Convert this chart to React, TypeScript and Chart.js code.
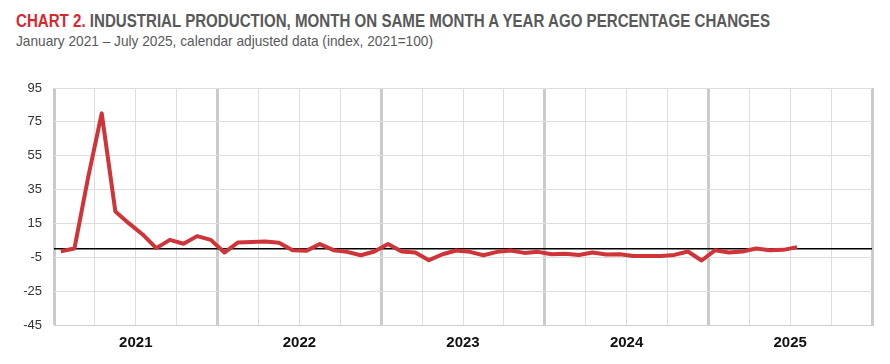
import React, { useEffect, useRef } from "react";
import { Chart, registerables } from "chart.js";

Chart.register(...registerables);

const YEARS = ["2021", "2022", "2023", "2024", "2025"];
const Y_TICKS = [-45, -25, -5, 15, 35, 55, 75, 95];

const VALUES_2021 = [-1.4, 0.2, 42, 80, 22, 15, 8.5, 0.4, 5.3, 3, 7.5, 5.3];
const VALUES_2022 = [-2.2, 3.8, 4, 4.3, 3.6, -0.8, -1.2, 2.8, -0.8, -1.8, -3.8, -1.6];
const VALUES_2023 = [2.8, -1.6, -2.2, -6.7, -3.2, -1, -1.8, -3.8, -1.8, -1, -2.4, -1.8];
const VALUES_2024 = [-3.2, -2.9, -3.6, -2.2, -3.4, -3.2, -4.2, -4.2, -4.2, -3.6, -1.6, -6.9];
const VALUES_2025 = [-0.8, -2.2, -1.6, 0.2, -0.8, -0.6, 1];

const SERIES = [...VALUES_2021, ...VALUES_2022, ...VALUES_2023, ...VALUES_2024, ...VALUES_2025];

const FONT = '"Liberation Sans Narrow", "Arial Narrow", "Liberation Sans", Arial, sans-serif';

export default function App() {
  const ref = useRef<HTMLCanvasElement | null>(null);
  const titleRef = useRef<HTMLDivElement | null>(null);
  const subRef = useRef<HTMLDivElement | null>(null);

  useEffect(() => {
    const fit = (el: HTMLDivElement | null, target: number) => {
      if (!el) return;
      el.style.transform = "none";
      const w = el.getBoundingClientRect().width;
      if (w > 0) el.style.transform = `scaleX(${target / w})`;
    };
    fit(titleRef.current, 754);
    fit(subRef.current, 417);

    if (!ref.current) return;
    const totalMonths = YEARS.length * 12;
    const chart = new Chart(ref.current, {
      type: "line",
      data: {
        datasets: [
          {
            data: SERIES.map((v, i) => ({ x: i + 0.5, y: v })),
            borderColor: "#cf3439",
            borderWidth: 4,
            pointRadius: 0,
            tension: 0,
            order: 1,
            borderJoinStyle: "round",
          },
          {
            data: [
              { x: 0, y: 0 },
              { x: totalMonths, y: 0 },
            ],
            borderColor: "#000000",
            borderWidth: 1.5,
            pointRadius: 0,
            order: 2,
          },
        ],
      },
      options: {
        animation: false,
        responsive: false,
        devicePixelRatio: 1,
        layout: { padding: { top: 88, right: 18, left: 0, bottom: 0 } },
        plugins: { legend: { display: false }, tooltip: { enabled: false }, title: { display: false } },
        scales: {
          x: {
            type: "linear",
            min: 0,
            max: totalMonths,
            afterBuildTicks: (scale: any) => {
              const t = [];
              for (let v = 0; v <= totalMonths; v += 3) t.push({ value: v });
              scale.ticks = t;
            },
            afterFit: (scale: any) => {
              scale.height = 39;
            },
            ticks: {
              autoSkip: false,
              maxRotation: 0,
              padding: 9,
              color: "#111111",
              font: { family: FONT, size: 15, weight: "bold" },
              callback: (value: any) => {
                const v = Number(value);
                if (v % 12 === 6) return YEARS[(v - 6) / 12];
                return "";
              },
            },
            grid: {
              drawTicks: false,
              color: (ctx: any) => (ctx.tick && ctx.tick.value % 12 === 0 ? "#cbcbcb" : "#dedede"),
              lineWidth: (ctx: any) => (ctx.tick && ctx.tick.value % 12 === 0 ? 3 : 1),
            },
            border: { display: true, color: "#d0d0d0", width: 1 },
          },
          y: {
            type: "linear",
            min: -45,
            max: 95,
            afterBuildTicks: (scale: any) => {
              scale.ticks = Y_TICKS.map((v) => ({ value: v }));
            },
            afterFit: (scale: any) => {
              scale.width = 54;
            },
            ticks: {
              padding: 12,
              color: "#333333",
              font: { family: FONT, size: 13 },
            },
            grid: { drawTicks: false, color: "#dedede", lineWidth: 1 },
            border: { display: false },
          },
        },
      },
    });
    return () => chart.destroy();
  }, []);

  return (
    <div>
      <div
        ref={titleRef}
        style={{
          position: "absolute",
          left: 16,
          top: 10,
          fontFamily: FONT,
          fontSize: 18,
          fontWeight: "bold",
          color: "#595959",
          whiteSpace: "nowrap",
          lineHeight: "22px",
          transformOrigin: "0 0",
        }}
      >
        <span style={{ color: "#d8282f" }}>CHART 2.</span> INDUSTRIAL PRODUCTION, MONTH ON SAME MONTH A YEAR AGO
        PERCENTAGE CHANGES
      </div>
      <div
        ref={subRef}
        style={{
          position: "absolute",
          left: 16,
          top: 32,
          fontFamily: FONT,
          fontSize: 15,
          color: "#595959",
          whiteSpace: "nowrap",
          lineHeight: "18px",
          transformOrigin: "0 0",
        }}
      >
        January 2021 – July 2025, calendar adjusted data (index, 2021=100)
      </div>
      <canvas
        ref={ref}
        width={890}
        height={364}
        style={{ position: "absolute", left: 0, top: 0, width: 890, height: 364 }}
      />
    </div>
  );
}
